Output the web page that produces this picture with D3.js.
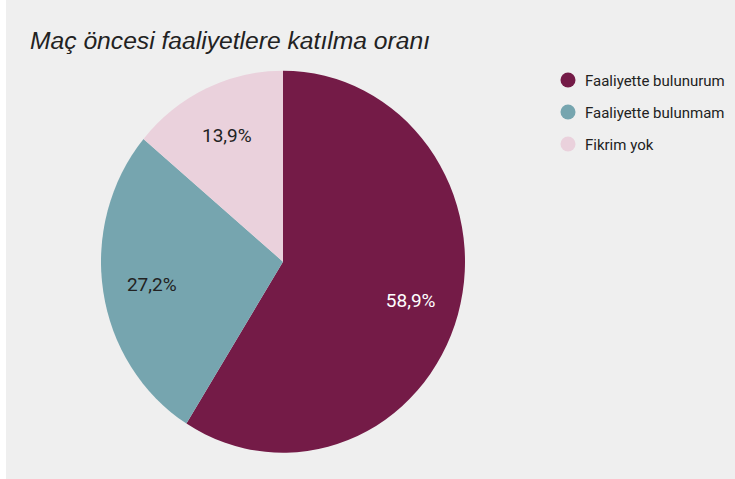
<!DOCTYPE html>
<html><head><meta charset="utf-8">
<script src="https://cdn.jsdelivr.net/npm/d3@7"></script>
<style>html,body{margin:0;padding:0;background:#fff;}svg{display:block;}</style>
</head><body>
<script>
const categories = ["Faaliyette bulunurum", "Faaliyette bulunmam", "Fikrim yok"];
const values = [58.9, 27.2, 13.9];
const labels = ["58,9%", "27,2%", "13,9%"];
const colors = ["#741b47", "#76a5af", "#ead1dc"];
const labelColors = ["#ffffff", "#222222", "#222222"];
const title = "Maç öncesi faaliyetlere katılma oranı";

const W = 735, H = 479;
const svg = d3.select("body").append("svg").attr("width", W).attr("height", H);
svg.append("rect").attr("x", 6).attr("y", 0).attr("width", W - 6).attr("height", H).attr("fill", "#efefef");

svg.append("text").attr("x", 30).attr("y", 48.5)
  .attr("font-family", "'Liberation Sans', Arial, sans-serif").attr("font-style", "italic")
  .attr("font-size", 23).attr("textLength", 400).attr("lengthAdjust", "spacingAndGlyphs")
  .attr("fill", "#222").text(title);

const cx = 283, cy = 261.7, rx = 182, ry = 191;
const pie = d3.pie().sort(null).value(d => d);
const arcs = pie(values);
const arc = d3.arc().innerRadius(0).outerRadius(rx);
const g = svg.append("g").attr("transform", `translate(${cx},${cy}) scale(1,${ry / rx})`);
g.selectAll("path").data(arcs).join("path").attr("d", arc).attr("fill", (d, i) => colors[i]);

const lr = 0.73;
svg.selectAll("text.lbl").data(arcs).join("text").attr("class", "lbl")
  .attr("x", d => cx + Math.sin((d.startAngle + d.endAngle) / 2) * rx * lr)
  .attr("y", d => cy - Math.cos((d.startAngle + d.endAngle) / 2) * ry * lr + 7)
  .attr("text-anchor", "middle")
  .attr("font-family", "Roboto, sans-serif").attr("font-size", 19)
  .attr("fill", (d, i) => labelColors[i]).text((d, i) => labels[i]);

const leg = svg.append("g");
categories.forEach((c, i) => {
  const y = 80 + i * 32;
  leg.append("circle").attr("cx", 568).attr("cy", y).attr("r", 7.5).attr("fill", colors[i]);
  leg.append("text").attr("x", 585).attr("y", y + 5.5)
    .attr("font-family", "Roboto, sans-serif").attr("font-size", 15).attr("fill", "#222").text(c);
});
</script>
</body></html>
